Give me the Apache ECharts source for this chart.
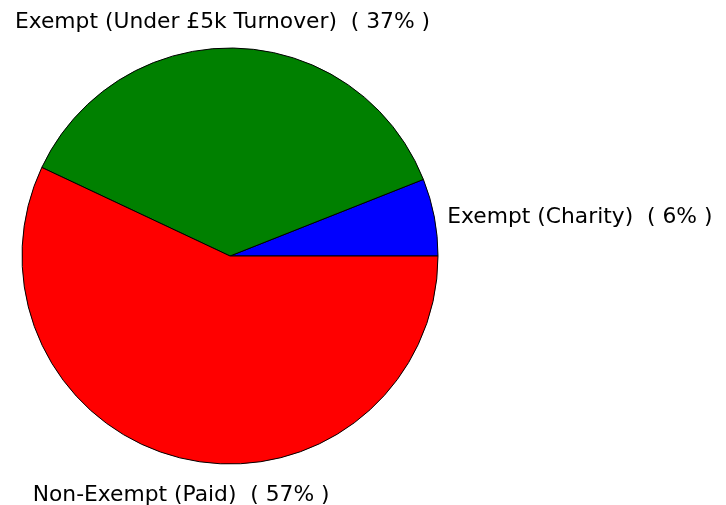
<!DOCTYPE html>
<html>
<head>
<meta charset="utf-8">
<script src="https://cdn.jsdelivr.net/npm/echarts@6/dist/echarts.min.js"></script>
<style>
  html, body { margin: 0; padding: 0; background: #ffffff; }
  #chart { width: 726px; height: 505px; }
</style>
</head>
<body>
<div id="chart"></div>
<script>
// Exemption status breakdown (percent of total)
const categories = ['Exempt (Charity)', 'Exempt (Under £5k Turnover)', 'Non-Exempt (Paid)'];
const shares = [6, 37, 57];
const colors = ['#0000ff', '#008000', '#ff0000'];

const chart = echarts.init(document.getElementById('chart'));

chart.setOption({
  animation: false,
  backgroundColor: '#ffffff',
  series: [{
    type: 'pie',
    center: [230, 256],
    radius: 208,
    startAngle: 0,
    clockwise: false,
    avoidLabelOverlap: false,
    data: categories.map((name, i) => ({
      name: name,
      value: shares[i],
      itemStyle: { color: colors[i] }
    })),
    itemStyle: { borderColor: '#000000', borderWidth: 1 },
    label: {
      show: true,
      position: 'outside',
      fontFamily: 'DejaVu Sans',
      fontSize: 21.8,
      color: '#000000',
      formatter: p => p.name + '  ( ' + p.percent.toFixed(0) + '% )'
    },
    labelLine: { show: false, length: 0, length2: 0 },
    labelLayout: function (p) {
      // top and bottom labels are centred above / below their slices
      if (p.dataIndex === 1) {
        return { align: 'center', dx: -19, dy: -26 };
      }
      if (p.dataIndex === 2) {
        return { align: 'center', dx: 1.5, dy: 36 };
      }
      return { dx: 8 };
    },
    emphasis: { disabled: true }
  }]
});
</script>
</body>
</html>
